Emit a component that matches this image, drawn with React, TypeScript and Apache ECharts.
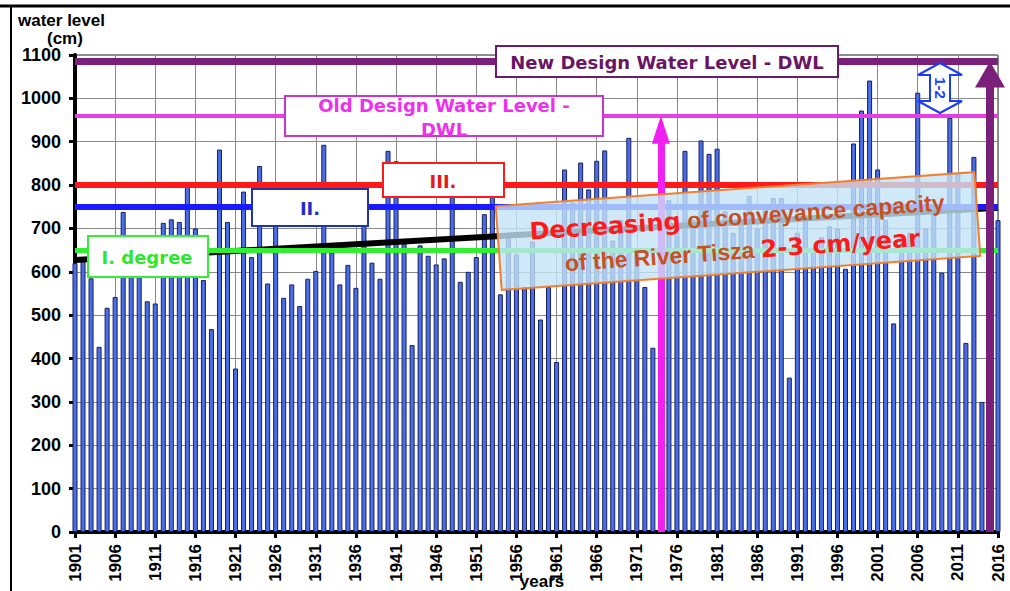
import React, { useEffect, useRef } from 'react';
import * as echarts from 'echarts';

const FIRST_YEAR = 1901;
const LAST_YEAR = 2016;
const years: string[] = [];
for (let y = FIRST_YEAR; y <= LAST_YEAR; y++) years.push(String(y));

// annual maximum water levels (cm), 1901..2016
const waterLevel = [
  620, 625, 585, 427, 517, 542, 738, 640, 620, 532,
  527, 713, 721, 715, 807, 700, 581, 468, 882, 715,
  377, 785, 634, 844, 573, 720, 540, 571, 521, 584,
  602, 893, 645, 571, 616, 563, 730, 621, 584, 879,
  855, 665, 431, 661, 637, 617, 631, 790, 577, 600,
  634, 733, 800, 548, 690, 640, 565, 670, 490, 565,
  392, 836, 760, 852, 790, 856, 880, 672, 720, 909,
  640, 565, 425, 840, 765, 700, 879, 720, 903, 872,
  884, 740, 690, 720, 775, 700, 750, 770, 770, 356,
  690, 720, 650, 680, 705, 700, 607, 896, 972, 1041,
  836, 720, 481, 680, 690, 1013, 700, 740, 598, 955,
  828, 436, 865, 300, 485, 719,
];

const levelNewDWL = 1085;
const levelOldDWL = 960;
const levelIII = 800;
const levelII = 750;
const levelI = 650;
const trendStart = 627;
const trendEnd = 748;
const arrowOldYear = '1974';
const arrowNewYear = '2015';

const Y_MIN = 0;
const Y_MAX = 1100;
const Y_STEP = 100;

const GRID = { left: 75, right: 12, top: 55, bottom: 59 };
const H = 591;
const pxPerUnit = (H - GRID.top - GRID.bottom) / (Y_MAX - Y_MIN);

const BOLD_LABEL = 'bold 18px "DejaVu Sans"';

function labelBox(x: number, y: number, w: number, h: number, stroke: string, texts: any[], z = 10) {
  return {
    type: 'group',
    x,
    y,
    z,
    children: [
      {
        type: 'rect',
        z,
        shape: { x: 0, y: 0, width: w, height: h },
        style: { fill: '#ffffff', stroke, lineWidth: 2 },
      },
      ...texts.map((t) => ({
        type: 'text',
        z: z + 1,
        x: t.x,
        y: t.y,
        style: {
          text: t.text,
          font: t.font || BOLD_LABEL,
          fill: t.fill,
          align: 'center',
          verticalAlign: 'middle',
          textAlign: 'center',
          textVerticalAlign: 'middle',
        },
      })),
    ],
  };
}

export default function App() {
  const ref = useRef<HTMLDivElement>(null);

  useEffect(() => {
    if (!ref.current) return;
    const chart = echarts.init(ref.current, undefined, { renderer: 'svg' });

    const oldHead = [18, 28];
    const newHead = [30, 26];

    const option: any = {
      animation: false,
      backgroundColor: '#ffffff',
      grid: {
        ...GRID,
        show: true,
        borderColor: '#222',
        borderWidth: 1,
        backgroundColor: '#ffffff',
      },
      xAxis: {
        type: 'category',
        data: years,
        boundaryGap: false,
        axisLine: { lineStyle: { color: '#000', width: 4 } },
        axisTick: { interval: 4, length: 6, lineStyle: { color: '#000', width: 3 } },
        axisLabel: {
          interval: 4,
          rotate: 90,
          margin: 12,
          fontSize: 17,
          fontWeight: 'bold',
          color: '#000',
          fontFamily: '"Liberation Sans", Arial, sans-serif',
        },
        splitLine: { show: true, interval: 4, lineStyle: { color: '#8a8a8a', width: 1 } },
      },
      yAxis: {
        type: 'value',
        min: Y_MIN,
        max: Y_MAX,
        interval: Y_STEP,
        axisLine: { show: true, lineStyle: { color: '#000', width: 4 } },
        axisTick: { show: true, length: 6, lineStyle: { color: '#000', width: 3 } },
        axisLabel: {
          margin: 14,
          fontSize: 18,
          fontWeight: 'bold',
          color: '#000',
          fontFamily: '"Liberation Sans", Arial, sans-serif',
          formatter: (v: number) => String(v),
        },
        splitLine: { lineStyle: { color: '#8a8a8a', width: 1 } },
      },
      series: [
        {
          type: 'bar',
          data: waterLevel,
          barWidth: 5,
          clip: true,
          z: 2,
          itemStyle: { color: '#4a6ee6', borderColor: '#17205e', borderWidth: 1 },
        },
        {
          type: 'line',
          data: [
            [years[0], trendStart],
            [years[years.length - 1], trendEnd],
          ],
          symbol: 'none',
          z: 4,
          lineStyle: { color: '#000', width: 6 },
          markLine: {
            silent: true,
            symbol: 'none',
            label: { show: false },
            data: [
              { yAxis: levelNewDWL, lineStyle: { color: '#7a1f7a', width: 7, type: 'solid' } },
              { yAxis: levelOldDWL, lineStyle: { color: '#e83ee8', width: 4, type: 'solid' } },
              { yAxis: levelIII, lineStyle: { color: '#ff1a1a', width: 6, type: 'solid' } },
              { yAxis: levelII, lineStyle: { color: '#1a1aff', width: 6, type: 'solid' } },
              { yAxis: levelI, lineStyle: { color: '#33ee33', width: 5, type: 'solid' } },
            ],
          },
        },
        {
          type: 'line',
          data: [],
          z: 5,
          markLine: {
            silent: true,
            label: { show: false },
            data: [
              [
                { coord: [arrowOldYear, 0], symbol: 'none' },
                {
                  coord: [arrowOldYear, levelOldDWL - oldHead[1] / 2 / pxPerUnit],
                  symbol: 'triangle',
                  symbolSize: oldHead,
                  lineStyle: { color: '#f020f0', width: 7, type: 'solid' },
                  itemStyle: { color: '#f020f0' },
                },
              ],
              [
                { coord: [arrowNewYear, 0], symbol: 'none' },
                {
                  coord: [arrowNewYear, levelNewDWL - newHead[1] / 2 / pxPerUnit],
                  symbol: 'triangle',
                  symbolSize: newHead,
                  lineStyle: { color: '#7a1f7a', width: 8, type: 'solid' },
                  itemStyle: { color: '#7a1f7a' },
                },
              ],
            ],
            lineStyle: { type: 'solid' },
          },
        },
      ],
      graphic: [
        { type: 'line', z: 50, shape: { x1: 0, y1: 6, x2: 1010, y2: 6 }, style: { stroke: '#000', lineWidth: 3 } },
        { type: 'line', z: 50, shape: { x1: 11, y1: 6, x2: 11, y2: 591 }, style: { stroke: '#000', lineWidth: 2 } },
        {
          type: 'text',
          z: 50,
          x: 18,
          y: 12,
          style: { text: 'water level', font: 'bold 17px "Liberation Sans"', fill: '#000' },
        },
        {
          type: 'text',
          z: 50,
          x: 47,
          y: 30,
          style: { text: '(cm)', font: 'bold 17px "Liberation Sans"', fill: '#000' },
        },
        {
          type: 'text',
          z: 50,
          x: 542,
          y: 573,
          style: {
            text: 'years',
            font: 'bold 17px "Liberation Sans"',
            fill: '#000',
            align: 'center',
            textAlign: 'center',
          },
        },
        labelBox(496, 46, 342, 31, '#6a1b6a', [
          { x: 171, y: 16, text: 'New Design Water Level - DWL', fill: '#6b1466' },
        ]),
        labelBox(285, 96, 318, 40, '#cc33cc', [
          { x: 159, y: 9, text: 'Old Design Water Level -', fill: '#ee30ee' },
          { x: 159, y: 33, text: 'DWL', fill: '#ee30ee' },
        ]),
        labelBox(383, 163, 121, 34, '#ff1a1a', [{ x: 60, y: 18, text: 'III.', fill: '#e81818' }]),
        labelBox(252, 189, 116, 37, '#2233aa', [{ x: 58, y: 19, text: 'II.', fill: '#1a2ec8' }]),
        labelBox(88, 236, 120, 41, '#33ee33', [{ x: 59, y: 21, text: 'I. degree', fill: '#2ee82e' }]),
        {
          type: 'group',
          x: 738,
          y: 231,
          rotation: (4.1 * Math.PI) / 180,
          z: 20,
          children: [
            {
              type: 'rect',
              z: 20,
              shape: { x: -240, y: -42, width: 480, height: 84 },
              style: { fill: 'rgba(196,228,248,0.8)', stroke: '#f08030', lineWidth: 2 },
            },
            {
              type: 'text',
              z: 21,
              x: 0,
              y: -14,
              style: {
                text: '{a|Decreasing}{b| of conveyance capacity}',
                align: 'center',
                verticalAlign: 'middle',
                textAlign: 'center',
                textVerticalAlign: 'middle',
                rich: {
                  a: { font: 'bold 24px "DejaVu Sans"', fill: '#ff1a1a' },
                  b: { font: 'bold 23px "Liberation Sans"', fill: '#c8501e' },
                },
              },
            },
            {
              type: 'text',
              z: 21,
              x: 3,
              y: 20,
              style: {
                text: '{b|of the River Tisza }{a|2-3 cm/year}',
                align: 'center',
                verticalAlign: 'middle',
                textAlign: 'center',
                textVerticalAlign: 'middle',
                rich: {
                  a: { font: 'bold 24px "DejaVu Sans"', fill: '#ff1a1a' },
                  b: { font: 'bold 23px "Liberation Sans"', fill: '#c8501e' },
                },
              },
            },
          ],
        },
        {
          type: 'polygon',
          z: 30,
          shape: {
            points: [
              [940, 63], [962, 75], [950, 75], [950, 101], [962, 101],
              [940, 113], [918, 101], [930, 101], [930, 75], [918, 75],
            ],
          },
          style: { fill: '#ffffff', stroke: '#1a3cff', lineWidth: 2 },
        },
        {
          type: 'text',
          z: 31,
          x: 940,
          y: 88,
          rotation: -Math.PI / 2,
          style: {
            text: '1-2',
            font: 'bold 15px "Liberation Sans"',
            fill: '#1a3cff',
            align: 'center',
            verticalAlign: 'middle',
            textAlign: 'center',
            textVerticalAlign: 'middle',
          },
        },
      ],
    };

    chart.setOption(option);
    return () => chart.dispose();
  }, []);

  return (
    <div
      ref={ref}
      style={{ position: 'absolute', left: 0, top: 0, width: 1010, height: 591, background: '#fff' }}
    />
  );
}
